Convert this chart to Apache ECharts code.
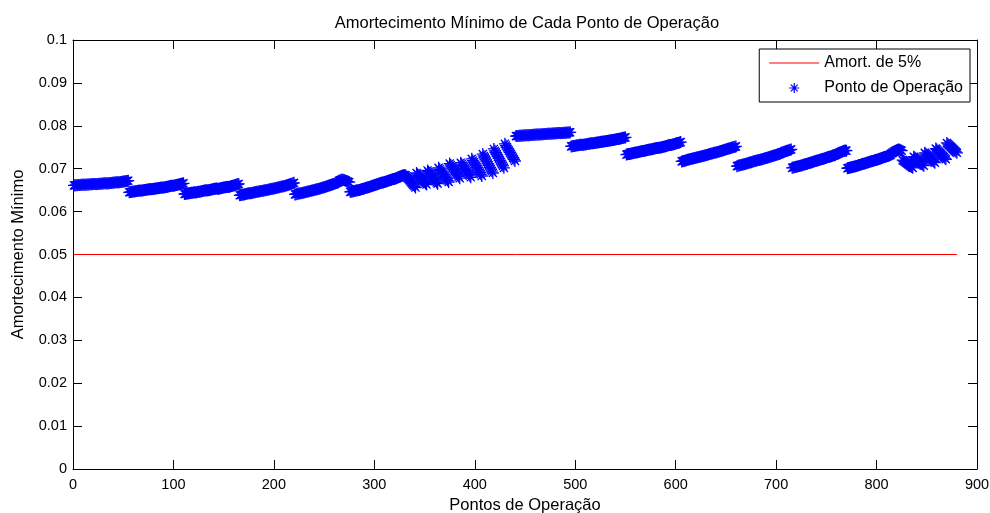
<!DOCTYPE html>
<html>
<head>
<meta charset="utf-8">
<title>Amortecimento Mínimo</title>
<script src="https://cdn.jsdelivr.net/npm/echarts@6/dist/echarts.min.js"></script>
<style>
  html, body { margin: 0; padding: 0; background: #fff; }
  #box { width: 990px; height: 513px; }
</style>
</head>
<body>
<div id="box"></div>
<script>
// minimum damping of each operating point, in units of 1e-5
// 16 blocks of 55 points (5 groups of 11)
var dampingE5 = [
  // 1 - 55
  6610,6612,6614,6616,6618,6620,6622,6624,6626,6628,6630,
  6625,6627,6630,6632,6634,6636,6638,6640,6642,6644,6646,
  6640,6643,6646,6648,6650,6652,6655,6657,6659,6661,6663,
  6655,6658,6661,6664,6667,6670,6673,6676,6679,6682,6685,
  6680,6684,6688,6692,6696,6700,6704,6708,6712,6716,6720,
  // 56 - 110
  6450,6454,6458,6462,6466,6470,6474,6478,6482,6486,6490,
  6485,6489,6493,6497,6501,6505,6509,6513,6517,6521,6525,
  6520,6524,6528,6532,6536,6540,6544,6548,6552,6556,6560,
  6555,6560,6565,6570,6575,6580,6585,6590,6595,6600,6605,
  6600,6606,6612,6618,6624,6630,6636,6642,6648,6654,6660,
  // 111 - 165
  6410,6414,6418,6422,6426,6430,6434,6438,6442,6446,6450,
  6445,6450,6455,6460,6465,6470,6475,6480,6485,6490,6495,
  6490,6495,6500,6505,6510,6515,6520,6525,6530,6535,6540,
  6530,6535,6540,6545,6550,6555,6560,6565,6570,6575,6580,
  6575,6582,6589,6596,6603,6610,6617,6624,6631,6638,6645,
  // 166 - 220
  6380,6385,6390,6395,6400,6405,6410,6415,6420,6425,6430,
  6430,6435,6440,6445,6450,6455,6460,6465,6470,6475,6480,
  6480,6485,6490,6495,6500,6505,6510,6515,6520,6525,6530,
  6530,6536,6542,6548,6554,6560,6566,6572,6578,6584,6590,
  6590,6598,6606,6614,6622,6630,6638,6646,6654,6662,6670,
  // 221 - 275
  6400,6405,6410,6415,6420,6425,6430,6435,6440,6445,6450,
  6455,6461,6467,6473,6479,6485,6491,6497,6503,6509,6515,
  6520,6527,6534,6541,6548,6555,6562,6569,6576,6583,6590,
  6600,6608,6616,6624,6632,6640,6648,6656,6664,6672,6680,
  6720,6730,6740,6745,6740,6735,6725,6715,6705,6695,6685,
  // 276 - 330
  6460,6465,6470,6475,6480,6485,6490,6495,6500,6505,6510,
  6520,6527,6534,6541,6548,6555,6562,6569,6576,6583,6590,
  6600,6608,6616,6624,6632,6640,6648,6656,6664,6672,6680,
  6680,6688,6696,6704,6712,6720,6728,6736,6744,6752,6760,
  6760,6770,6780,6790,6800,6810,6820,6830,6840,6845,6850,
  // 331 - 385
  6850,6821,6792,6763,6734,6705,6676,6647,6618,6589,6560,
  6900,6873,6846,6819,6792,6765,6738,6711,6684,6657,6630,
  6960,6929,6898,6867,6836,6805,6774,6743,6712,6681,6650,
  7020,6987,6954,6921,6888,6855,6822,6789,6756,6723,6690,
  7120,7086,7052,7018,6984,6950,6916,6882,6848,6814,6780,
  // 386 - 440
  7140,7106,7072,7038,7004,6970,6936,6902,6868,6834,6800,
  7230,7190,7150,7110,7070,7030,6990,6950,6910,6870,6830,
  7340,7296,7252,7208,7164,7120,7076,7032,6988,6944,6900,
  7460,7416,7372,7328,7284,7240,7196,7152,7108,7064,7020,
  7580,7540,7500,7460,7420,7380,7340,7300,7260,7220,7180,
  // 441 - 495
  7760,7762,7764,7766,7768,7770,7772,7774,7776,7778,7780,
  7778,7780,7782,7784,7786,7788,7790,7792,7794,7796,7798,
  7795,7797,7799,7801,7803,7805,7807,7809,7811,7813,7815,
  7812,7814,7816,7818,7820,7822,7824,7826,7828,7830,7832,
  7828,7830,7832,7834,7836,7838,7840,7842,7844,7846,7848,
  // 496 - 550
  7520,7524,7528,7532,7536,7540,7544,7548,7552,7556,7560,
  7555,7559,7563,7567,7571,7575,7579,7583,7587,7591,7595,
  7595,7599,7603,7607,7611,7615,7619,7623,7627,7631,7635,
  7635,7639,7643,7647,7651,7655,7659,7663,7667,7671,7675,
  7680,7685,7690,7695,7700,7705,7710,7715,7720,7725,7730,
  // 551 - 605
  7330,7335,7340,7345,7350,7355,7360,7365,7370,7375,7380,
  7385,7390,7395,7400,7405,7410,7415,7420,7425,7430,7435,
  7440,7445,7450,7455,7460,7465,7470,7475,7480,7485,7490,
  7490,7496,7502,7508,7514,7520,7526,7532,7538,7544,7550,
  7550,7557,7564,7571,7578,7585,7592,7599,7606,7613,7620,
  // 606 - 660
  7170,7176,7182,7188,7194,7200,7206,7212,7218,7224,7230,
  7235,7241,7247,7253,7259,7265,7271,7277,7283,7289,7295,
  7300,7307,7314,7321,7328,7335,7342,7349,7356,7363,7370,
  7370,7377,7384,7391,7398,7405,7412,7419,7426,7433,7440,
  7450,7457,7464,7471,7478,7485,7492,7499,7506,7513,7520,
  // 661 - 715
  7060,7066,7072,7078,7084,7090,7096,7102,7108,7114,7120,
  7130,7137,7144,7151,7158,7165,7172,7179,7186,7193,7200,
  7200,7207,7214,7221,7228,7235,7242,7249,7256,7263,7270,
  7280,7287,7294,7301,7308,7315,7322,7329,7336,7343,7350,
  7370,7378,7386,7394,7402,7410,7418,7426,7434,7442,7450,
  // 716 - 770
  7020,7026,7032,7038,7044,7050,7056,7062,7068,7074,7080,
  7090,7097,7104,7111,7118,7125,7132,7139,7146,7153,7160,
  7170,7177,7184,7191,7198,7205,7212,7219,7226,7233,7240,
  7250,7257,7264,7271,7278,7285,7292,7299,7306,7313,7320,
  7340,7350,7360,7370,7380,7390,7400,7410,7420,7425,7420,
  // 771 - 825
  7010,7016,7022,7028,7034,7040,7046,7052,7058,7064,7070,
  7080,7087,7094,7101,7108,7115,7122,7129,7136,7143,7150,
  7160,7167,7174,7181,7188,7195,7202,7209,7216,7223,7230,
  7240,7248,7256,7264,7272,7280,7288,7296,7304,7312,7320,
  7360,7375,7390,7405,7420,7430,7440,7445,7440,7430,7420,
  // 826 - 880
  7200,7182,7164,7146,7128,7110,7092,7074,7056,7038,7020,
  7280,7259,7238,7217,7196,7175,7154,7133,7112,7091,7070,
  7370,7347,7324,7301,7278,7255,7232,7209,7186,7163,7140,
  7470,7445,7420,7395,7370,7345,7320,7295,7270,7245,7220,
  7600,7577,7554,7531,7508,7485,7462,7439,7416,7393,7370
];

// 5% damping reference line
var limitX = [1, 880];
var limitY = [0.05, 0.05];

var xTicks = { min: 0, max: 900, step: 100 };
var yTicks = { min: 0, max: 0.1, step: 0.01 };

var asterisk = 'path://M5,0L5,10M0,5L10,5M1.6,1.6L8.4,8.4M1.6,8.4L8.4,1.6';
var lineIcon = 'path://M0,0L50,0L50,1L0,1Z';
var font = 'Arial, "Liberation Sans", sans-serif';

var points = dampingE5.map(function (v, i) { return [i + 1, v / 100000]; });
var limit = limitX.map(function (x, i) { return [x, limitY[i]]; });

var dom = document.getElementById('box');
var myChart = echarts.init(dom, null, { renderer: 'canvas' });

// box on: plain axes on top and right, ticks only
function mirrorAxis(pos, range) {
  return {
    type: 'value', position: pos, min: range.min, max: range.max, interval: range.step,
    axisLine: { show: true, onZero: false, lineStyle: { color: '#000', width: 1 } },
    axisTick: { show: true, inside: true, length: 9, lineStyle: { color: '#000' } },
    axisLabel: { show: false },
    splitLine: { show: false }
  };
}

option = {
  backgroundColor: '#fff',
  animation: false,
  textStyle: { fontFamily: font },
  title: {
    text: 'Amortecimento Mínimo de Cada Ponto de Operação',
    left: 522,
    textAlign: 'center',
    top: 10,
    textStyle: { fontSize: 16.5, fontWeight: 'normal', color: '#000', fontFamily: font }
  },
  grid: { left: 73, right: 13, top: 40, bottom: 44, containLabel: false, outerBoundsMode: 'none' },
  legend: {
    orient: 'vertical',
    right: 20,
    top: 49,
    padding: [6, 7, 6, 10],
    itemGap: 9,
    itemWidth: 50,
    itemHeight: 10,
    backgroundColor: '#fff',
    borderColor: '#000',
    borderWidth: 1,
    borderRadius: 0,
    selectedMode: false,
    textStyle: { fontSize: 16, color: '#000', fontFamily: font, lineHeight: 16 },
    data: [
      { name: 'Amort. de 5%', icon: lineIcon, itemStyle: { color: '#ff0000' } },
      { name: 'Ponto de Operação', icon: asterisk, itemStyle: { color: '#0000ff', borderColor: '#0000ff', borderWidth: 1.2 } }
    ]
  },
  xAxis: [
    {
      type: 'value', min: xTicks.min, max: xTicks.max, interval: xTicks.step,
      name: 'Pontos de Operação', nameLocation: 'middle', nameGap: 28,
      nameTextStyle: { fontSize: 16.5, color: '#000', fontFamily: font },
      axisLine: { show: true, onZero: false, lineStyle: { color: '#000', width: 1 } },
      axisTick: { show: true, inside: true, length: 9, lineStyle: { color: '#000' } },
      axisLabel: { color: '#000', fontSize: 14.5, margin: 8, fontFamily: font },
      splitLine: { show: false }
    },
    mirrorAxis('top', xTicks)
  ],
  yAxis: [
    {
      type: 'value', min: yTicks.min, max: yTicks.max, interval: yTicks.step,
      name: 'Amortecimento Mínimo', nameLocation: 'middle', nameGap: 46,
      nameTextStyle: { fontSize: 16.5, color: '#000', fontFamily: font },
      axisLine: { show: true, onZero: false, lineStyle: { color: '#000', width: 1 } },
      axisTick: { show: true, inside: true, length: 9, lineStyle: { color: '#000' } },
      axisLabel: { color: '#000', fontSize: 14.5, margin: 6, fontFamily: font },
      splitLine: { show: false }
    },
    mirrorAxis('right', yTicks)
  ],
  series: [
    {
      name: 'Amort. de 5%',
      type: 'line',
      data: limit,
      symbol: 'none',
      lineStyle: { color: '#ff0000', width: 1 },
      itemStyle: { color: '#ff0000' },
      z: 2
    },
    {
      name: 'Ponto de Operação',
      type: 'scatter',
      data: points,
      symbol: asterisk,
      symbolSize: 12,
      itemStyle: { color: '#0000ff', borderColor: '#0000ff', borderWidth: 1.3, opacity: 1 },
      large: false,
      z: 3
    }
  ]
};

if (option && typeof option === 'object') {
  myChart.setOption(option);
}
</script>
</body>
</html>
